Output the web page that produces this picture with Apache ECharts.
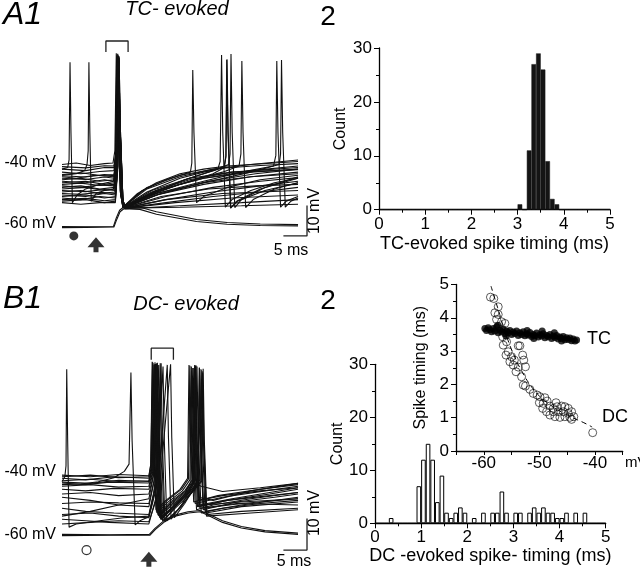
<!DOCTYPE html>
<html><head><meta charset="utf-8">
<script src="https://cdn.jsdelivr.net/npm/echarts@6/dist/echarts.min.js"></script>
<style>html,body{margin:0;padding:0;background:#fff}#c{width:640px;height:570px}</style>
</head><body><div id="c"></div>
<script>
// ---------- Histogram data (0.1 ms bins from 0 to 5 ms) ----------
const binStarts = ['0.0','0.1','0.2','0.3','0.4','0.5','0.6','0.7','0.8','0.9',
 '1.0','1.1','1.2','1.3','1.4','1.5','1.6','1.7','1.8','1.9',
 '2.0','2.1','2.2','2.3','2.4','2.5','2.6','2.7','2.8','2.9',
 '3.0','3.1','3.2','3.3','3.4','3.5','3.6','3.7','3.8','3.9',
 '4.0','4.1','4.2','4.3','4.4','4.5','4.6','4.7','4.8','4.9'];
const tcBinCounts = [0,0,0,0,0,0,0,0,0,0, 0,0,0,0,0,0,0,0,0,0, 0,0,0,0,0,0,0,0,0,0,
 1,0,11,27,29,26,9,2,1,0, 0,0,0,0,0,0,0,0,0,0];
const dcBinCounts = [0,0,0,1,0,0,0,0,0,7, 12,15,12,4,9,2,1,2,3,2, 0,1,0,2,0,2,2,6,2,0,
 2,2,0,2,3,2,3,2,2,1, 1,2,0,2,0,2,0,0,0,0];

// ---------- Inset: spike timing (ms) vs membrane potential (mV) ----------
const tcScatter = [[-59.8,3.68],[-59.5,3.62],[-59.2,3.70],[-58.9,3.64],[-58.6,3.58],[-58.3,3.68],[-58.0,3.60],[-57.7,3.72],[-57.4,3.55],[-57.1,3.63],[-56.8,3.58],[-56.5,3.66],[-56.2,3.52],[-55.9,3.60],[-55.6,3.55],[-55.3,3.62],[-55.0,3.50],[-54.7,3.57],[-54.4,3.53],[-54.1,3.60],[-53.8,3.47],[-53.5,3.55],[-53.2,3.50],[-52.9,3.58],[-52.6,3.46],[-52.3,3.52],[-52.0,3.48],[-51.7,3.56],[-51.4,3.44],[-51.1,3.50],[-50.8,3.46],[-50.5,3.54],[-50.2,3.42],[-49.9,3.49],[-49.6,3.45],[-49.3,3.52],[-49.0,3.40],[-48.7,3.47],[-48.4,3.43],[-48.1,3.50],[-47.8,3.38],[-47.5,3.45],[-47.2,3.41],[-46.9,3.47],[-46.6,3.36],[-46.3,3.42],[-46.0,3.38],[-45.7,3.44],[-45.4,3.34],[-45.1,3.40],[-44.8,3.35],[-44.5,3.39],[-44.2,3.31],[-43.9,3.36],[-43.6,3.30],[-43.3,3.33],[-57.5,3.78],[-52.2,3.62],[-49.5,3.60],[-47.3,3.55],[-56.0,3.45],[-51.0,3.38],[-46.0,3.30]];
const dcScatter = [[-58.8,4.62],[-58.2,4.58],[-57.4,4.33],[-58.0,4.15],[-57.4,4.10],[-57.7,3.95],[-56.8,3.88],[-56.2,3.83],[-56.6,3.43],[-55.9,3.28],[-56.5,3.18],[-53.8,3.16],[-53.5,3.16],[-55.6,2.98],[-56.0,2.88],[-55.0,2.83],[-55.3,2.68],[-54.5,2.73],[-53.0,2.88],[-52.8,2.73],[-54.7,2.58],[-53.8,2.52],[-52.5,2.53],[-54.2,2.38],[-53.2,2.23],[-52.9,1.98],[-52.5,1.95],[-51.7,1.85],[-51.1,1.73],[-50.4,1.68],[-49.9,1.63],[-49.0,1.60],[-50.0,1.45],[-49.3,1.43],[-48.6,1.50],[-48.1,1.35],[-47.0,1.45],[-46.0,1.35],[-45.4,1.33],[-44.8,1.28],[-44.2,1.18],[-43.8,1.03],[-44.5,1.01],[-45.4,1.03],[-46.3,1.01],[-47.2,1.03],[-48.1,1.08],[-48.7,1.18],[-49.4,1.28],[-47.5,1.18],[-46.6,1.18],[-45.7,1.18],[-44.8,1.13],[-44.2,0.95],[-47.5,1.28],[-46.8,1.33],[-40.4,0.55]];
const dcFit = [[-58.7,4.95],[-57.5,4.3],[-56,3.5],[-54.5,2.85],[-53,2.35],[-51.5,1.95],[-50,1.65],[-48,1.38],[-46,1.17],[-44,1.0],[-42,0.85],[-40.5,0.72]];

// ---------- A1: TC-evoked traces [time ms, membrane mV] ----------
const a1Traces = [
 [[0,-60.8],[5,-60.9],[10.9,-60.8],[11.5,-58],[12.2,-55.5],[13,-54.5],[16.5,-54.5],[20,-56],[28.5,-58.5],[35,-59.5],[42,-60],[50,-60.2]],
 [[0,-61.2],[5,-61.1],[11,-61],[11.6,-58.5],[12.3,-56],[13.1,-55],[16.5,-55.2],[20,-56.8],[28.5,-59.2],[35,-60.1],[42,-60.5],[50,-60.6]],
 [[0,-42],[1.2,-41.5],[1.5,-39],[1.7,-7],[1.9,-30],[2.2,-53],[3.2,-50.5],[5,-48.5],[8,-47],[10.9,-46],[11.3,-40],[11.6,-6],[11.85,-25],[12.4,-50],[12.9,-54.5],[16,-50],[20,-46.5],[25,-43.5],[30,-42],[35,-41],[40,-40.5],[50,-39.5]],
 [[0,-44],[3,-43.5],[4.8,-42.5],[5.3,-40.5],[5.55,-36],[5.7,-7],[5.9,-30],[6.2,-52.5],[7.2,-50],[9,-49],[10.9,-48.5],[11.4,-42],[11.7,-5],[11.95,-26],[12.5,-51],[13,-54.7],[18,-51],[25,-47],[30,-45],[40,-43],[50,-42]],
 [[0,-40.5],[3,-40],[6,-40.8],[9,-40.2],[10.8,-40],[11.2,-36],[11.5,-4],[11.8,-24],[12.3,-49],[12.9,-54.6],[17,-49],[22,-45.5],[27.2,-43],[27.5,-40],[27.7,-9.5],[27.95,-30],[28.5,-53],[30,-51],[35,-48],[42,-45.5],[50,-44]],
 [[0,-43],[4,-43.5],[8,-42.8],[11,-42.5],[11.4,-38],[11.7,-5],[12,-27],[12.5,-50],[13,-54.5],[18,-49.5],[25,-45],[30,-43],[33,-42],[33.5,-39.5],[33.8,-4.6],[34.05,-30],[34.6,-54.5],[36,-52],[40,-49],[45,-46.5],[50,-45]],
 [[0,-44.5],[3,-45],[7,-44],[11,-44.5],[11.5,-38],[11.8,-5.5],[12.05,-27],[12.6,-51],[13.1,-54.8],[19,-50],[26,-45.5],[31,-43],[34.3,-41.5],[34.7,-38],[34.9,-6.2],[35.15,-30],[35.7,-54.8],[37,-52.5],[42,-48.5],[50,-45]],
 [[0,-45.5],[4,-45],[8,-46],[11.1,-45.5],[11.55,-38],[11.85,-4.5],[12.1,-26],[12.6,-51],[13,-54.6],[20,-49],[27,-45],[32,-42.5],[35.3,-40.5],[35.6,-37],[35.8,-4.3],[36.05,-30],[36.6,-54.6],[38,-52],[43,-48],[50,-44.5]],
 [[0,-46.5],[5,-46],[9,-47],[11.1,-46.5],[11.6,-38],[11.9,-5],[12.15,-27],[12.7,-51],[13.2,-54.5],[20,-49.5],[28,-45.5],[34,-43],[37.5,-41],[37.9,-37],[38.1,-6.6],[38.35,-30],[38.9,-54.6],[40.5,-52],[45,-48.5],[50,-46.5]],
 [[0,-47.5],[4,-48],[8,-47.2],[11.2,-47.5],[11.6,-39],[11.9,-5.5],[12.2,-28],[12.7,-51],[13.2,-54.6],[20,-50],[30,-46],[38,-43],[44.8,-41],[45.3,-37.5],[45.5,-6.6],[45.75,-30],[46.3,-54.5],[47.5,-52.5],[50,-51]],
 [[0,-48.5],[5,-48],[9,-49],[11.2,-48.5],[11.65,-39],[11.95,-6],[12.2,-28],[12.8,-52],[13.3,-54.7],[20,-50.5],[30,-46.5],[40,-43],[46,-40.5],[46.3,-37],[46.5,-6.2],[46.75,-30],[47.3,-54.5],[48.5,-52.5],[50,-51.5]],
 [[0,-49.5],[4,-49],[8,-50],[11.2,-49.5],[11.7,-40],[12,-5],[12.25,-27],[12.8,-51],[13.2,-54.7],[20,-50.5],[30,-47],[40,-44.5],[50,-43]],
 [[0,-50.5],[5,-51],[9,-50],[11.3,-50.5],[11.75,-40],[12,-6],[12.3,-28],[12.8,-52],[13.3,-54.7],[22,-51],[32,-48],[42,-46],[50,-44.8]],
 [[0,-51.5],[4,-52],[8,-51],[11.3,-51.5],[11.8,-41],[12.05,-5],[12.3,-28],[12.9,-52],[13.4,-54.8],[22,-52],[32,-49.5],[42,-47.5],[50,-46]],
 [[0,-52.5],[5,-52],[9,-53],[11.3,-52.5],[11.8,-41],[12.1,-5.5],[12.35,-28],[12.9,-52],[13.4,-54.8],[22,-53],[32,-51],[42,-49.5],[50,-48]],
 [[0,-53],[4,-53.5],[8,-53],[11.3,-53],[11.8,-42],[12.1,-6],[12.35,-28],[12.9,-52.5],[13.4,-55],[25,-54],[38,-53],[50,-52]],
 [[0,-42],[5,-42.5],[9,-41.5],[11,-41.5],[11.4,-37],[11.7,-5],[11.95,-26],[12.5,-50],[12.9,-54.5],[18,-48.5],[25,-44.5],[32,-42],[40,-40.5],[50,-39]],
 [[0,-48],[4,-47.5],[8,-48.5],[11.2,-48],[11.65,-39],[11.95,-4.8],[12.2,-27],[12.75,-51],[13.2,-54.6],[21,-50],[31,-46],[41,-43.5],[50,-42]],
 [[0,-46],[5,-46.5],[9,-45.5],[11.1,-46],[11.55,-38],[11.85,-5],[12.1,-27],[12.6,-51],[13.1,-54.6],[20,-49],[30,-45],[40,-42.5],[50,-41]],
 [[0,-51],[5,-50.5],[9,-51.5],[11.3,-51],[11.8,-41],[12.05,-5.5],[12.3,-28],[12.9,-52],[13.4,-54.8],[25,-54.5],[38,-54],[50,-53.5]],
 [[0,-41.2],[5,-41.6],[9,-40.9],[11,-41],[11.4,-37],[11.65,-4.5],[11.9,-25],[12.45,-50],[12.9,-54.5],[18,-48],[25,-44],[33,-41.8],[42,-40.8],[50,-40.2]],
 [[0,-43.8],[4,-43.2],[8,-44.1],[11.05,-43.8],[11.45,-38],[11.75,-5],[12,-27],[12.55,-50.5],[13,-54.6],[19,-49.5],[27,-45.5],[36,-43],[50,-41.5]],
 [[0,-45],[5,-45.4],[9,-44.6],[11.1,-45],[11.5,-38],[11.8,-4.8],[12.05,-27],[12.6,-51],[13.05,-54.6],[20,-50],[30,-46.5],[40,-44.5],[50,-43.5]],
 [[0,-47],[4,-46.6],[8,-47.4],[11.15,-47],[11.6,-38.5],[11.9,-5.2],[12.15,-27],[12.7,-51],[13.15,-54.6],[20,-49.5],[27,-46],[32,-43.5],[34.4,-41.5],[34.75,-37.5],[34.95,-6],[35.2,-30],[35.75,-54.7],[37.2,-52.5],[43,-49],[50,-46.5]],
 [[0,-49],[5,-49.4],[9,-48.7],[11.2,-49],[11.7,-39.5],[11.95,-5.6],[12.2,-28],[12.8,-51.5],[13.25,-54.7],[21,-51],[31,-48.5],[41,-47.5],[50,-47]],
 [[0,-50],[4,-50.3],[8,-49.6],[11.25,-50],[11.75,-40],[12,-5.8],[12.3,-28],[12.85,-52],[13.3,-54.7],[22,-52],[34,-50],[50,-49]],
 [[0,-52],[5,-51.6],[9,-52.4],[11.3,-52],[11.8,-41],[12.05,-5.2],[12.3,-28],[12.9,-52],[13.4,-54.8],[24,-53],[36,-51.5],[50,-50.5]],
 [[0,-44.2],[5,-44.6],[9,-43.8],[11.1,-44.2],[11.5,-38],[11.8,-4.2],[12.05,-26],[12.6,-51],[13.05,-54.6],[19,-49],[27,-45],[36,-43],[50,-42.2]]
];

// ---------- B1: DC-evoked traces [time ms, membrane mV] ----------
const b1Traces = [
 [[0,-59.8],[10,-59.9],[18.5,-59.8],[19.7,-57.9],[21.8,-55.2],[23.9,-53.7],[26.7,-52.6],[29.2,-52.2],[31,-53.3],[34,-55.5],[38,-57.3],[43,-58.6],[50,-59.4]],
 [[0,-60.2],[10,-60.1],[18.6,-60.1],[19.8,-58.2],[21.9,-55.6],[24,-54],[26.8,-53],[29.3,-52.6],[31,-53.8],[34,-56],[38,-57.8],[43,-59],[50,-59.8]],
 [[0,-43],[0.6,-41.5],[0.85,-38],[1.0,-7.4],[1.2,-30],[1.5,-57.5],[3,-56.5],[8,-55.5],[13,-54.5],[18.4,-54],[19.4,-47],[20.1,-38],[20.3,-6],[20.55,-30],[21.1,-55],[23,-52],[26,-47],[27.3,-43],[27.6,-7],[27.85,-30],[28.5,-52],[32,-50.5],[40,-48.5],[50,-46.5]],
 [[0,-44],[4,-43.8],[7.7,-43.1],[11,-41.8],[13.2,-39.8],[14.2,-37.5],[14.6,-8.4],[14.85,-30],[15.5,-56.8],[16.5,-55.5],[18.4,-54.2],[19.5,-47],[20.6,-39],[20.8,-5.5],[21.05,-30],[21.6,-55.5],[24,-51],[27,-46],[28.3,-42.5],[28.6,-6.5],[28.85,-30],[29.5,-53],[34,-51.5],[42,-50],[50,-49]],
 [[0,-41.5],[6,-41],[12,-41.8],[18.4,-41.5],[18.8,-38],[19.1,-5],[19.35,-28],[19.9,-52],[22,-49],[25,-45.5],[26.6,-42],[26.9,-6],[27.15,-30],[27.6,-43.5],[29.5,-44.5],[34,-46.2],[42,-45],[50,-43.6]],
 [[0,-42],[5,-42.5],[11,-41.5],[18.4,-42],[18.9,-38.5],[19.3,-5.5],[19.55,-29],[20.1,-53],[22.5,-49.5],[25.5,-46],[27.1,-42.5],[27.4,-6.5],[27.65,-30],[28.2,-50],[34,-48],[43,-46],[50,-44.5]],
 [[0,-42.8],[6,-42.3],[12,-43],[18.4,-42.8],[19,-39],[19.5,-6],[19.75,-29],[20.3,-53.5],[23,-49.5],[26,-46],[27.6,-42.5],[27.9,-7],[28.15,-30],[28.7,-51],[35,-49],[44,-47],[50,-45.5]],
 [[0,-43.5],[5,-44],[10,-43.2],[18.4,-43.5],[19.1,-39.5],[19.7,-5.2],[19.95,-29],[20.5,-54],[23,-50.5],[26.5,-46],[28,-43],[28.3,-6.2],[28.55,-30],[29.1,-50.5],[36,-48.5],[44,-46.5],[50,-45]],
 [[0,-44.5],[6,-44],[12,-44.8],[18.4,-44.5],[19.2,-40],[19.9,-6],[20.15,-29],[20.7,-54.5],[23.5,-51],[27,-46.5],[28.8,-43],[29.1,-6.8],[29.35,-30],[29.9,-52],[37,-49.5],[45,-48],[50,-47]],
 [[0,-45.5],[5,-46],[11,-45.2],[18.4,-45.5],[19.3,-40],[20.1,-5.5],[20.35,-29],[20.9,-55],[24,-51],[27.5,-46],[29.2,-42.5],[29.5,-7.5],[29.75,-30],[30.3,-52.5],[38,-50.5],[50,-48]],
 [[0,-48],[6,-49],[12,-50.5],[18.4,-51],[19.5,-43],[20.5,-6],[20.75,-29],[21.3,-55.5],[24,-51.5],[27.5,-46.5],[29.4,-43],[29.7,-8],[29.95,-30],[30.5,-53],[38,-51],[50,-49.5]],
 [[0,-51.5],[5,-52.5],[11,-53],[18.4,-53.5],[19.8,-44],[21,-5.5],[21.25,-29],[21.8,-55.8],[24.5,-52],[27.8,-46],[29.6,-43],[29.9,-7.2],[30.15,-30],[30.7,-53.5],[38,-52.5],[50,-51.5]],
 [[0,-53.5],[6,-53],[12,-54],[18.4,-54.5],[20,-45],[21.4,-6.5],[21.65,-29],[22.2,-55.5],[25,-51.5],[28.5,-44.5],[29.8,-8.5],[30.05,-30],[30.6,-54],[40,-53],[50,-52]],
 [[0,-55],[5,-55.5],[10,-56],[18.4,-56.5],[20.3,-46],[22.3,-6],[22.55,-29],[23.1,-55],[25.5,-50],[27.8,-44],[28.1,-6.5],[28.35,-30],[28.9,-48],[32,-49],[40,-46],[50,-43.6]],
 [[0,-56.5],[6,-56],[12,-55.5],[18.4,-55.8],[20.6,-46],[23,-5.8],[23.25,-29],[23.8,-54.5],[26,-50],[28,-45],[28.8,-42],[29.1,-7],[29.35,-30],[29.9,-50.5],[38,-49.5],[50,-48.5]],
 [[0,-50],[6,-49.5],[12,-49.8],[18.4,-50],[19.6,-42],[20.2,-5.3],[20.45,-29],[21,-55],[23.5,-51],[26.8,-46],[28.1,-42.5],[28.4,-6.2],[28.65,-30],[29.2,-51.5],[37,-50],[50,-50.5]],
 [[0,-54],[6,-52.5],[12,-50.5],[18.4,-48.5],[19.4,-41],[19.8,-5.7],[20.05,-29],[20.6,-54],[23,-51],[26.5,-46.5],[27.8,-43],[28.1,-6],[28.35,-30],[28.9,-49],[34,-47.5],[42,-46],[50,-45]],
 [[0,-41],[6,-41.5],[12,-40.8],[18.4,-41.2],[18.8,-37.5],[19.2,-5.2],[19.45,-28],[20,-52.5],[22.3,-49],[25.3,-45.5],[26.8,-42.2],[27.1,-6.3],[27.35,-30],[27.9,-49.5],[33,-47.5],[42,-45.5],[50,-44]],
 [[0,-43.2],[6,-43.6],[12,-42.6],[18.4,-43],[19.05,-39],[19.6,-5.8],[19.85,-29],[20.4,-53.8],[23,-50],[26.2,-46],[27.8,-42.8],[28.1,-6.8],[28.35,-30],[28.9,-51],[35,-49],[44,-47.5],[50,-46.5]],
 [[0,-47],[6,-46.5],[12,-47.5],[18.4,-47],[19.35,-41],[20,-5.6],[20.25,-29],[20.8,-54.6],[23.7,-51],[27.2,-46],[28.9,-42.8],[29.2,-7.3],[29.45,-30],[30,-51.5],[38,-50],[50,-48.5]]
];

// ---------- Annotation marks in trace coordinates ----------
const a1Bracket = [[9.3,-3.6],[9.3,0],[14,0],[14,-3.6]];
const b1Bracket = [[18.9,-4.4],[18.9,-0.7],[23.6,-0.7],[23.6,-4.4]];
const a1ScaleBar = [[46.9,-63.9],[51.9,-63.9],[51.9,-53.9]];
const b1ScaleBar = [[46.9,-64.8],[51.9,-64.8],[51.9,-54.8]];
const a1Dot = [[2.5,-63.9]];
const a1Arrow = [[7.2,-66.8]];
const b1Circle = [[5.2,-64.8]];
const b1Arrow = [[18.4,-67.7]];

const FONT = 'Liberation Sans, Arial, sans-serif';
const ARROW = 'path://M8.5,0 L17,10 L11,10 L11,15 L6,15 L6,10 L0,10 Z';

function traceY(gi, min){
  return {gridIndex:gi, type:'value', min:min, max:0, interval:10,
    axisLine:{show:false}, axisTick:{show:false}, splitLine:{show:false},
    axisLabel:{color:'#000', fontSize:16, fontFamily:FONT, margin:6,
      formatter:function(v){return (v===-40||v===-60) ? (v+' mV') : '';}}};
}
function histX(gi, name, gap){
  return {gridIndex:gi, type:'value', min:0, max:5, interval:1,
    axisLine:{show:true, lineStyle:{color:'#000', width:1.3}},
    axisTick:{show:true, length:5, lineStyle:{color:'#000'}},
    minorTick:{show:true, splitNumber:2, length:3, lineStyle:{color:'#000'}},
    splitLine:{show:false},
    axisLabel:{color:'#000', fontSize:17, fontFamily:FONT, margin:6},
    name:name, nameLocation:'middle', nameGap:gap,
    nameTextStyle:{color:'#000', fontSize:18, fontFamily:FONT}};
}
function histY(gi, gap){
  return {gridIndex:gi, type:'value', min:0, max:30, interval:10,
    axisLine:{show:true, lineStyle:{color:'#000', width:1.3}},
    axisTick:{show:true, length:5, lineStyle:{color:'#000'}},
    minorTick:{show:true, splitNumber:2, length:3, lineStyle:{color:'#000'}},
    splitLine:{show:false},
    axisLabel:{color:'#000', fontSize:17, fontFamily:FONT, margin:7},
    name:'Count', nameLocation:'middle', nameGap:gap,
    nameTextStyle:{color:'#000', fontSize:16, fontFamily:FONT}};
}

const series = [];
a1Traces.forEach(function(tr){
  series.push({type:'line', xAxisIndex:0, yAxisIndex:0, data:tr, symbol:'none', silent:true,
    lineStyle:{color:'#111', width:1.1}});
});
b1Traces.forEach(function(tr){
  series.push({type:'line', xAxisIndex:1, yAxisIndex:1, data:tr, symbol:'none', silent:true,
    lineStyle:{color:'#111', width:1.1}});
});
[[0,a1Bracket],[1,b1Bracket],[0,a1ScaleBar],[1,b1ScaleBar]].forEach(function(p){
  series.push({type:'line', xAxisIndex:p[0], yAxisIndex:p[0], data:p[1], symbol:'none', clip:false,
    silent:true, lineStyle:{color:'#222', width:1.3}});
});
series.push({type:'scatter', xAxisIndex:0, yAxisIndex:0, data:a1Dot, symbol:'circle', symbolSize:9, clip:false, itemStyle:{color:'#000'}});
series.push({type:'scatter', xAxisIndex:0, yAxisIndex:0, data:a1Arrow, symbol:ARROW, symbolSize:[17,15], clip:false, itemStyle:{color:'#000'}});
series.push({type:'scatter', xAxisIndex:1, yAxisIndex:1, data:b1Circle, symbol:'circle', symbolSize:9, clip:false, itemStyle:{color:'#fff', borderColor:'#000', borderWidth:1.2}});
series.push({type:'scatter', xAxisIndex:1, yAxisIndex:1, data:b1Arrow, symbol:ARROW, symbolSize:[17,15], clip:false, itemStyle:{color:'#000'}});
// histograms
series.push({type:'bar', xAxisIndex:3, yAxisIndex:2, data:tcBinCounts, barCategoryGap:'0%', barGap:'0%',
  itemStyle:{color:'#151515', borderColor:'#151515', borderWidth:0.5}});
series.push({type:'bar', xAxisIndex:5, yAxisIndex:3, data:dcBinCounts, barCategoryGap:'0%', barGap:'0%',
  itemStyle:{color:'#fff', borderColor:'#000', borderWidth:1}});
// inset
series.push({type:'line', xAxisIndex:6, yAxisIndex:4, data:dcFit, symbol:'none', smooth:true,
  lineStyle:{color:'#000', width:1, type:[5,4]}});
series.push({type:'scatter', xAxisIndex:6, yAxisIndex:4, data:tcScatter, symbolSize:7, itemStyle:{color:'#000'}});
series.push({type:'scatter', xAxisIndex:6, yAxisIndex:4, data:dcScatter, symbolSize:8,
  itemStyle:{color:'rgba(255,255,255,0)', borderColor:'#000', borderWidth:0.8}});

function txt(text, x, y, font, align, rot){
  return {type:'text', x:x, y:y, rotation:rot||0, silent:true,
    style:{text:text, fill:'#000', font:font, align:align||'center', verticalAlign:'middle',
      textAlign:align||'center', textVerticalAlign:'middle'}};
}

const option = {
  animation:false,
  backgroundColor:'#fff',
  textStyle:{fontFamily:FONT},
  grid:[
    {left:62, top:41, width:250.2, height:244},
    {left:62, top:346, width:250.2, height:220.5},
    {left:379, top:48, width:231, height:161.7},
    {left:375, top:364.3, width:230.7, height:159},
    {left:456, top:284.5, width:166.7, height:166.5}
  ],
  xAxis:[
    {gridIndex:0, type:'value', min:0, max:53, show:false},
    {gridIndex:1, type:'value', min:0, max:53, show:false},
    histX(2, 'TC-evoked spike timing (ms)', 25),
    {gridIndex:2, type:'category', data:binStarts, show:false},
    histX(3, 'DC -evoked spike- timing (ms)', 21),
    {gridIndex:3, type:'category', data:binStarts, show:false},
    {gridIndex:4, type:'value', min:-65, max:-35, interval:5,
      axisLine:{show:true, lineStyle:{color:'#000', width:1.3}},
      axisTick:{show:true, length:4, lineStyle:{color:'#000'}},
      splitLine:{show:false},
      axisLabel:{color:'#000', fontSize:17, fontFamily:FONT, margin:4,
        formatter:function(v){return (v % 10 === 0) ? String(v) : '';}}}
  ],
  yAxis:[
    traceY(0, -80),
    traceY(1, -70),
    histY(2, 30),
    histY(3, 27),
    {gridIndex:4, type:'value', min:0, max:5, interval:1,
      axisLine:{show:true, lineStyle:{color:'#000', width:1.3}},
      axisTick:{show:true, length:5, lineStyle:{color:'#000'}},
      minorTick:{show:true, splitNumber:2, length:3, lineStyle:{color:'#000'}},
      splitLine:{show:false},
      axisLabel:{color:'#000', fontSize:17, fontFamily:FONT, margin:7},
      name:'Spike timing (ms)', nameLocation:'middle', nameGap:27,
      nameTextStyle:{color:'#000', fontSize:16, fontFamily:FONT}}
  ],
  series:series,
  graphic:[
    txt('A1', 3, 15, 'italic 32px ' + FONT, 'left'),
    txt('B1', 3, 299, 'italic 32px ' + FONT, 'left'),
    txt('TC- evoked', 177, 9, 'italic 20px ' + FONT),
    txt('DC- evoked', 186, 304, 'italic 20px ' + FONT),
    txt('2', 328, 17, '28px ' + FONT),
    txt('2', 328, 301, '28px ' + FONT),
    txt('10 mV', 315, 211, '16px ' + FONT, 'center', Math.PI/2),
    txt('10 mV', 315, 513, '16px ' + FONT, 'center', Math.PI/2),
    txt('5 ms', 291, 251, '16px ' + FONT),
    txt('5 ms', 294, 562, '16px ' + FONT),
    txt('TC', 587, 339, '18px ' + FONT, 'left'),
    txt('DC', 602, 417, '18px ' + FONT, 'left'),
    txt('mV', 625, 463, '15px ' + FONT, 'left')
  ]
};
echarts.init(document.getElementById('c'), null, {renderer:'canvas'}).setOption(option);
</script></body></html>
